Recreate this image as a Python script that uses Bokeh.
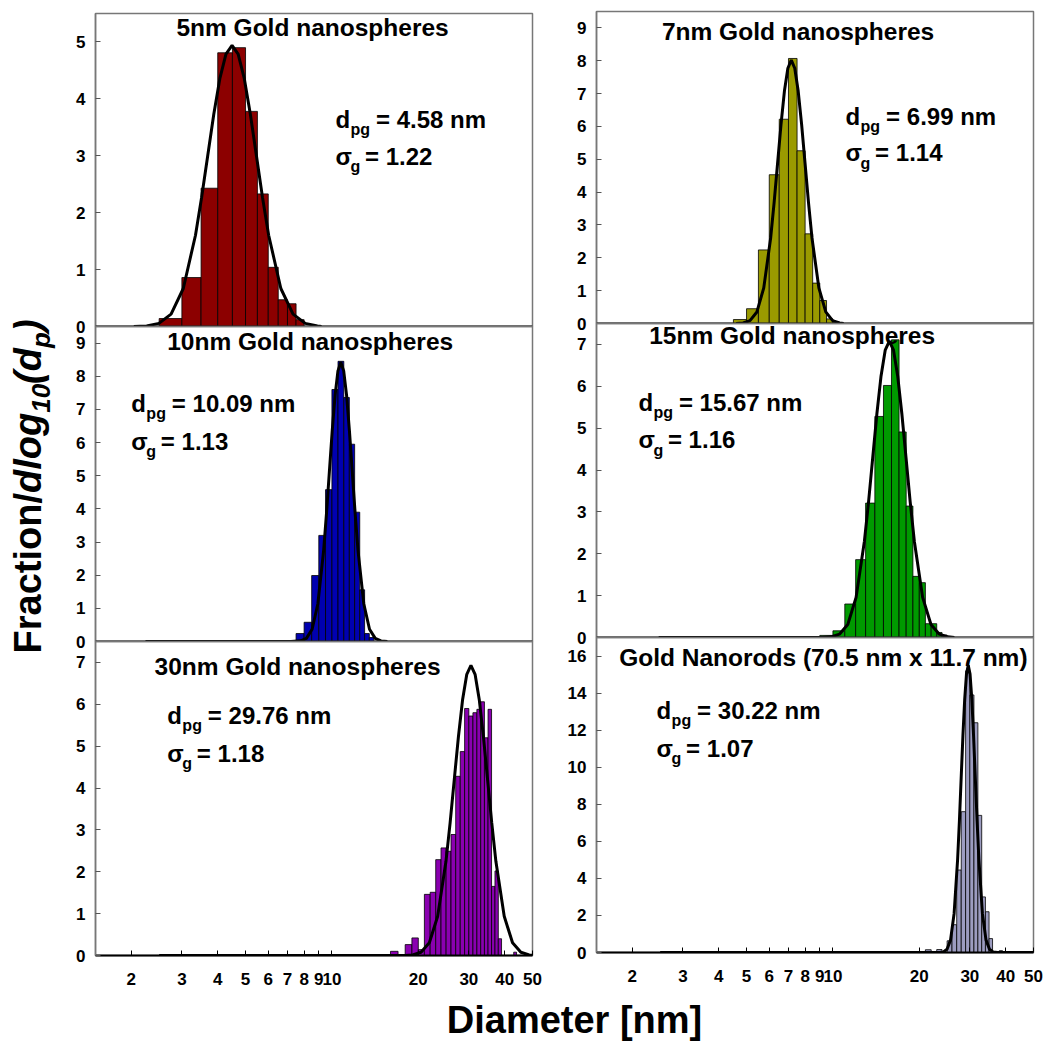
import math
from bokeh.plotting import figure
from bokeh.layouts import row, column
from bokeh.models import Range1d, FixedTicker, Span, Label
from bokeh.embed import file_html
from bokeh.resources import INLINE

FONT = "Liberation Sans"

# ---------------- data ----------------
x_ticks = [2, 3, 4, 5, 6, 7, 8, 9, 10, 20, 30, 40, 50]

# 5 nm
d5_edges = [2.5, 3.0, 3.5, 4.0, 4.5, 5.0, 5.5, 6.0, 6.5, 7.0, 7.5, 8.0]
d5_frac = [0.14, 0.86, 2.43, 4.81, 4.90, 3.78, 2.33, 1.04, 0.47, 0.40, 0.12]
d5_fit_d = [2.04, 2.262, 2.495, 2.751, 3.034, 3.346, 3.513, 3.690, 3.875, 4.069, 4.273, 4.487,
            4.712, 4.949, 5.197, 5.458, 5.731, 6.019, 6.637, 7.320, 8.073, 8.902, 9.2]
d5_fit_v = [0.0, 0.011, 0.055, 0.217, 0.668, 1.604, 2.262, 2.996, 3.729, 4.360, 4.788, 4.94,
            4.788, 4.360, 3.729, 2.996, 2.262, 1.604, 0.668, 0.217, 0.055, 0.011, 0.0]

# 7 nm
d7_edges = [4.5, 5.0, 5.5, 6.0, 6.5, 7.0, 7.5, 8.0, 8.5, 9.0, 9.5, 10.0, 10.5]
d7_frac = [0.12, 0.45, 2.24, 4.53, 6.22, 8.07, 5.26, 2.73, 1.23, 0.70, 0.14, 0.05]
d7_fit_d = [4.6, 4.864, 5.140, 5.433, 5.741, 6.067, 6.237, 6.412, 6.592, 6.776, 6.966, 7.161,
            7.362, 7.568, 7.780, 7.998, 8.222, 8.453, 8.933, 9.441, 9.977, 10.544, 10.9]
d7_fit_v = [0.0, 0.018, 0.089, 0.352, 1.085, 2.604, 3.672, 4.864, 6.053, 7.078, 7.773, 8.02,
            7.773, 7.078, 6.053, 4.864, 3.672, 2.604, 1.085, 0.352, 0.089, 0.018, 0.0]

# 10 nm
d10_edges = [7.5, 8.0, 8.5, 9.0, 9.5, 10.0, 10.5, 11.0, 11.5, 12.0, 12.5, 13.0, 13.5, 14.0]
d10_frac = [0.24, 0.58, 1.99, 3.20, 4.58, 7.6, 8.45, 7.36, 5.95, 3.9, 1.56, 0.24, 0.12]
d10_fit_d = [2.24, 7.2, 7.780, 8.147, 8.531, 8.933, 9.354, 9.572, 9.795, 10.023, 10.257, 10.495,
             10.740, 10.990, 11.246, 11.508, 11.776, 12.050, 12.331, 12.912, 13.521, 14.158,
             14.825, 15.6]
d10_fit_v = [0.0, 0.0, 0.019, 0.093, 0.370, 1.139, 2.734, 3.855, 5.107, 6.355, 7.431, 8.161,
             8.42, 8.161, 7.431, 6.355, 5.107, 3.855, 2.734, 1.139, 0.370, 0.093, 0.019, 0.0]

# 15 nm
d15_edges = [9, 10, 11, 12, 13, 14, 15, 16, 17, 18, 19, 20, 21, 22, 23, 24, 25]
d15_frac = [0.05, 0.16, 0.80, 1.86, 3.21, 5.28, 6.02, 7.11, 4.91, 3.14, 1.46, 1.31, 0.33, 0.33, 0.12, 0.06]
d15_fit_d = [2.47, 9.2, 9.856, 10.537, 11.265, 12.042, 12.874, 13.311, 13.763, 14.230, 14.713,
             15.212, 15.729, 16.263, 16.814, 17.386, 17.977, 18.587, 19.217, 20.544, 21.963,
             23.48, 25.10, 26.5]
d15_fit_v = [0.0, 0.0, 0.016, 0.079, 0.311, 0.958, 2.299, 3.241, 4.294, 5.344, 6.248, 6.862,
             7.08, 6.862, 6.248, 5.344, 4.294, 3.241, 2.299, 0.958, 0.311, 0.079, 0.016, 0.0]

# 30 nm
d30_edges = [16, 17, 18, 19, 20, 21, 22, 23, 24, 25, 26, 27, 28, 29, 30, 31, 32, 33, 34, 35,
             36, 37, 38, 39, 40, 41, 42, 43, 44]
d30_frac = [0.10, 0.0, 0.26, 0.42, 0.14, 1.46, 1.51, 2.29, 2.57, 2.49, 2.89, 4.28, 4.87, 5.9,
            5.72, 5.80, 5.88, 6.06, 5.2, 5.88, 1.65, 2.02, 0.40, 0.0, 0.0, 0.0, 0.0, 0.08]
d30_fit_d = [2.5, 18.0, 19.12, 20.44, 21.85, 23.36, 24.97, 25.82, 26.69, 27.60, 28.54, 29.51, 30.51,
             31.54, 32.61, 33.72, 34.87, 36.05, 37.27, 39.85, 42.60, 45.54, 48.69, 50.0]
d30_fit_v = [0.0, 0.0, 0.015, 0.077, 0.304, 0.938, 2.250, 3.173, 4.203, 5.231, 6.116, 6.717, 6.93,
             6.717, 6.116, 5.231, 4.203, 3.173, 2.250, 0.938, 0.304, 0.077, 0.015, 0.008]

# nanorods
rod_edges = [21, 22, 23, 24, 25, 26, 27, 28, 29, 30, 31, 32, 33, 34, 35, 36, 37, 38, 39]
rod_frac = [0.15, 0.0, 0.16, 0.0, 0.63, 1.5, 4.45, 7.6, 15.2, 13.9, 12.4, 7.4, 3.0, 2.2, 0.75, 0.0, 0.0, 0.1]
rod_fit_d = [2.5, 23.5, 24.27, 24.98, 25.70, 26.44, 27.20, 27.59, 27.98, 28.38, 28.79, 29.20, 29.62,
             30.05, 30.48, 30.91, 31.35, 31.80, 32.26, 33.19, 34.15, 35.13, 36.15, 37.5, 50.0]
rod_fit_v = [0.0, 0.0, 0.034, 0.172, 0.680, 2.097, 5.033, 7.096, 9.401, 11.699, 13.679, 15.023, 15.5,
             15.023, 13.679, 11.699, 9.401, 7.096, 5.033, 2.097, 0.680, 0.172, 0.034, 0.0, 0.0]

titles = ["5nm Gold nanospheres", "7nm Gold nanospheres", "10nm Gold nanospheres",
          "15nm Gold nanospheres", "30nm Gold nanospheres", "Gold Nanorods (70.5 nm x 11.7 nm)"]
dpg_texts = ["= 4.58 nm", "= 6.99 nm", "= 10.09 nm", "= 15.67 nm", "= 29.76 nm", "= 30.22 nm"]
sg_texts = ["= 1.22", "= 1.14", "= 1.13", "= 1.16", "= 1.18", "= 1.07"]
colors = ["#8c0000", "#9a9a00", "#0000b0", "#009a00", "#8a00b0", "#9c9cc0"]
y_max = [5.5, 9.5, 9.5, 7.5, 7.5, 17]
y_ticks = [list(range(0, 6)), list(range(0, 10)), list(range(0, 10)),
           list(range(0, 8)), list(range(0, 8)), list(range(0, 17, 2))]

edges_all = [d5_edges, d7_edges, d10_edges, d15_edges, d30_edges, rod_edges]
frac_all = [d5_frac, d7_frac, d10_frac, d15_frac, d30_frac, rod_frac]
fitd_all = [d5_fit_d, d7_fit_d, d10_fit_d, d15_fit_d, d30_fit_d, rod_fit_d]
fitv_all = [d5_fit_v, d7_fit_v, d10_fit_v, d15_fit_v, d30_fit_v, rod_fit_v]

# label placement (data units of each panel): title x, title baseline y, annotation start x,
# line1 baseline y, line2 baseline y, px per y unit
place = [
    (8.56, 5.09, 10.29, 3.47, 2.82, 57.0),
    (7.56, 8.60, 11.07, 6.02, 4.90, 32.9),
    (8.40, 8.75, 2.00, 6.88, 5.75, 33.0),
    (7.21, 6.98, 2.10, 5.38, 4.49, 41.9),
    (7.59, 6.67, 2.67, 5.50, 4.60, 41.8),
    (9.26, 15.4, 2.43, 12.56, 10.5, 18.5),
]

BASE_SHIFT = 0.4  # renderer places the alphabetic baseline ~0.4 em below the anchor

# layout geometry: (height, border_top, border_bottom, margin_top)
geo_left = [(340, 13, 14, 0), (343, 14, 14, -28), (377, 14, 49, -28)]
geo_right = [(337, 11, 14, 0), (342, 14, 14, -28), (381, 14, 52, -28)]


def txt(p, x, y_base, ppu, text, size, x_offset=0, align="left", drop=0.0):
    y = y_base - drop / ppu + BASE_SHIFT * size / ppu
    p.add_layout(Label(x=x, y=y, text=text, x_offset=x_offset, text_align=align,
                       text_baseline="alphabetic", text_font=FONT, text_font_style="bold",
                       text_font_size=f"{size}px", text_color="black"))


def make_panel(i):
    col = i % 2
    r = i // 2
    h, bt, bb, mt = (geo_left if col == 0 else geo_right)[r]
    w = 490 if col == 0 else 496
    bl = 35 if col == 0 else 46
    br = 18 if col == 0 else 13
    p = figure(width=w, height=h, x_axis_type="log", x_range=Range1d(1.5, 50),
               y_range=Range1d(0, y_max[i]), output_backend="svg", toolbar_location=None,
               x_axis_location="below" if r == 2 else None, y_axis_location="left",
               min_border_left=bl, min_border_right=br, min_border_top=bt, min_border_bottom=bb,
               margin=(mt, 0, 0, 0), title=None)
    p.border_fill_color = None
    p.background_fill_color = None
    p.outline_line_color = "#777777"
    p.outline_line_width = 1.5
    p.grid.visible = False

    e = edges_all[i]
    p.quad(left=e[:-1], right=e[1:], top=frac_all[i], bottom=0,
           fill_color=colors[i], line_color="black", line_width=0.8)
    p.line(fitd_all[i], fitv_all[i], line_color="black", line_width=3)

    yax = p.yaxis[0]
    yax.ticker = FixedTicker(ticks=y_ticks[i])
    yax.axis_line_color = "#777777"
    yax.axis_line_width = 1.5
    yax.major_tick_in = 5
    yax.major_tick_out = 0
    yax.major_tick_line_color = "#555555"
    yax.minor_tick_line_color = None
    yax.major_label_standoff = 10
    yax.major_label_text_font = FONT
    yax.major_label_text_font_style = "bold"
    yax.major_label_text_font_size = "17px"
    yax.major_label_text_color = "black"

    if r == 2:
        xax = p.xaxis[0]
        xax.ticker = FixedTicker(ticks=x_ticks)
        xax.major_label_overrides = {t: str(t) for t in x_ticks}
        xax.axis_line_color = "black"
        xax.axis_line_width = 2
        xax.major_tick_in = 5
        xax.major_tick_out = 0
        xax.major_tick_line_color = "black"
        xax.minor_tick_line_color = None
        xax.major_label_standoff = 17
        xax.major_label_text_font = FONT
        xax.major_label_text_font_style = "bold"
        xax.major_label_text_font_size = "17px"
        xax.major_label_text_color = "black"
    else:
        p.add_layout(Span(location=0, dimension="width", line_color="black", line_width=2))

    tx, ty, ax, y1, y2, ppu = place[i]
    txt(p, tx, ty, ppu, titles[i], 24.5, align="center")
    txt(p, ax, y1, ppu, "d", 24)
    txt(p, ax, y1, ppu, "pg", 16, x_offset=15, drop=7)
    txt(p, ax, y1, ppu, dpg_texts[i], 24, x_offset=40.5)
    txt(p, ax, y2, ppu, "\u03c3", 24)
    txt(p, ax, y2, ppu, "g", 16, x_offset=15, drop=7)
    txt(p, ax, y2, ppu, sg_texts[i], 24, x_offset=29.5)
    return p


panels = [make_panel(i) for i in range(6)]

# y label figure (pixel space)
YH = 1004
ylab = figure(width=60, height=YH, x_range=Range1d(0, 60), y_range=Range1d(0, YH),
              output_backend="svg", toolbar_location=None, x_axis_location=None,
              y_axis_location=None, min_border=0, title=None)
ylab.outline_line_color = None
ylab.grid.visible = False
ylab.border_fill_color = None
ylab.background_fill_color = None
pieces = [  # text, start (px from top), baseline x, size, style
    ("Fraction/", 653.0, 43, 38, "bold"),
    ("dlog", 492.5, 43, 38, "bold italic"),
    ("10", 412.3, 51, 26, "bold italic"),
    ("(d", 383.4, 43, 38, "bold italic"),
    ("p", 347.5, 51, 26, "bold italic"),
    (")", 331.6, 43, 38, "bold italic"),
]
for t, ys, xb, fs, st in pieces:
    ylab.add_layout(Label(x=xb - BASE_SHIFT * fs, y=YH - ys, text=t, angle=math.pi / 2,
                          text_align="left", text_baseline="alphabetic", text_font=FONT,
                          text_font_style=st, text_font_size=f"{fs}px", text_color="black"))

# x label figure
XH = 70
xlab = figure(width=1046, height=XH, x_range=Range1d(0, 1046), y_range=Range1d(0, XH),
              output_backend="svg", toolbar_location=None, x_axis_location=None,
              y_axis_location=None, min_border=0, margin=(-31, 0, 0, 0), title=None)
xlab.outline_line_color = None
xlab.grid.visible = False
xlab.border_fill_color = None
xlab.background_fill_color = None
xlab.add_layout(Label(x=574, y=XH - 62 + BASE_SHIFT * 38, text="Diameter [nm]", text_align="center",
                      text_baseline="alphabetic", text_font=FONT, text_font_style="bold",
                      text_font_size="38px", text_color="black"))

left_col = column(panels[0], panels[2], panels[4])
right_col = column(panels[1], panels[3], panels[5])
layout = column(row(ylab, left_col, right_col), xlab)

open("out.html", "w").write(file_html(layout, INLINE))
